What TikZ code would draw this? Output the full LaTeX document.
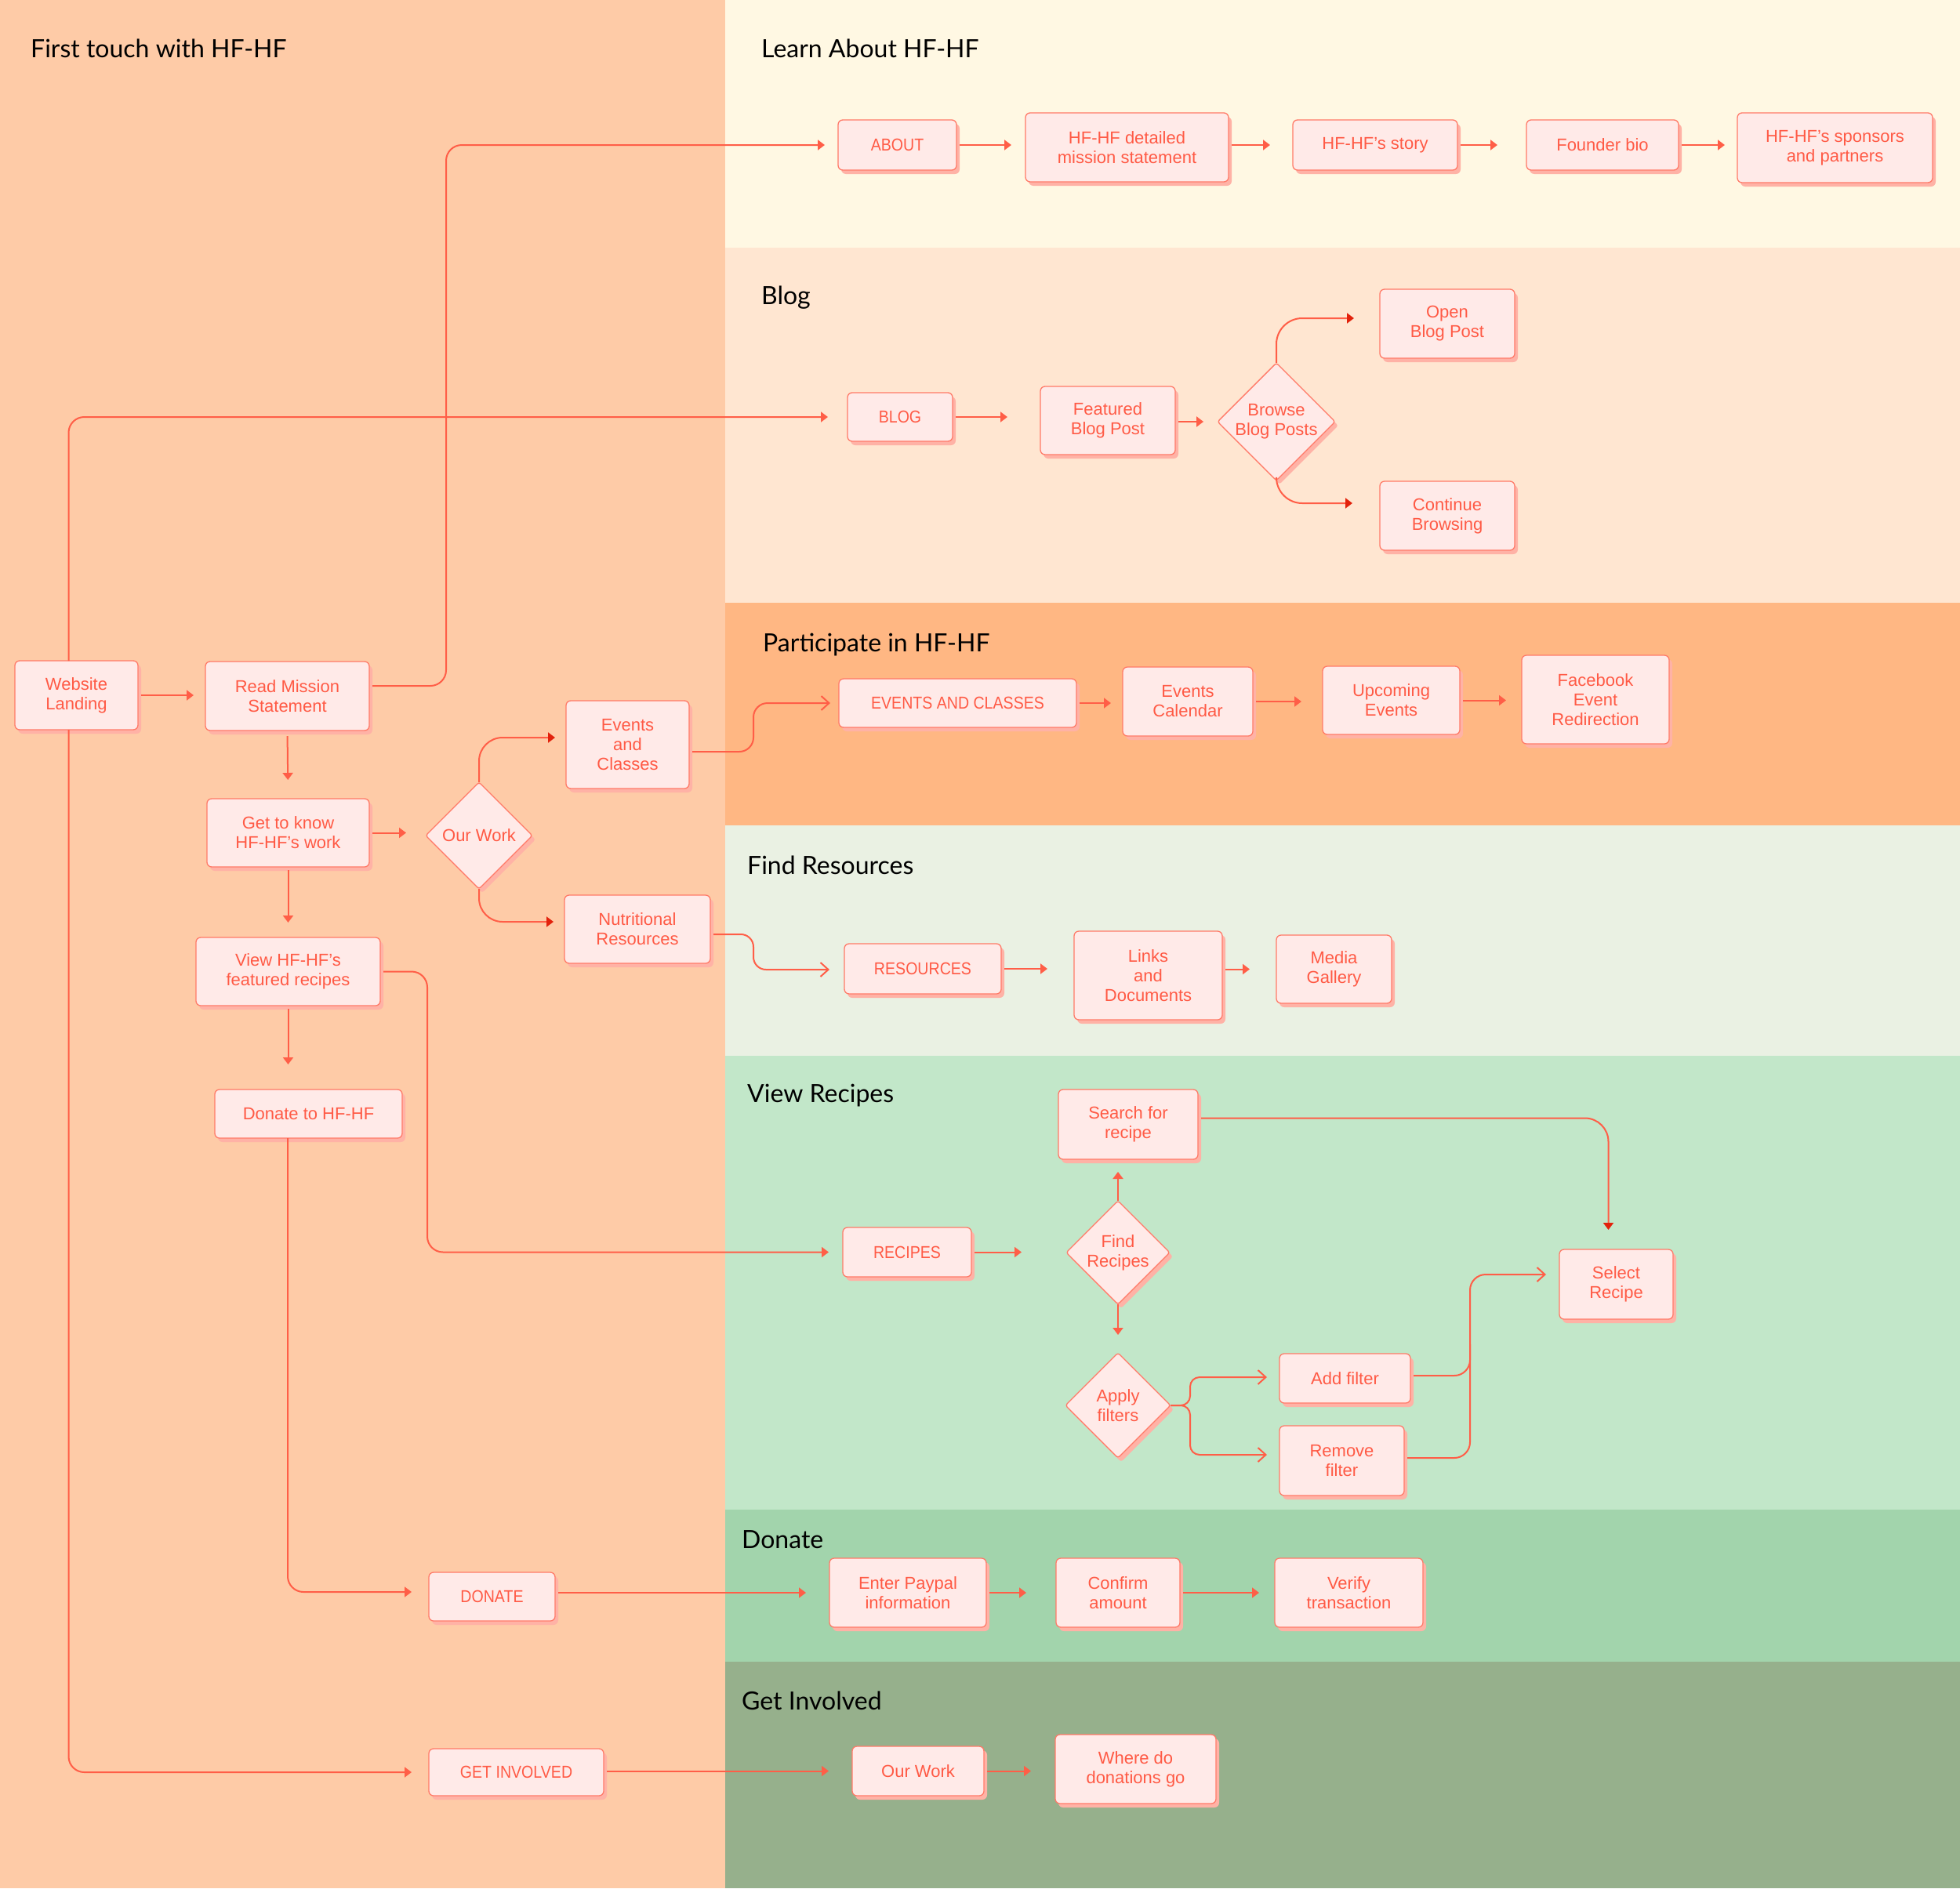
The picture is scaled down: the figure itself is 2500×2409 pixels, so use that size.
\documentclass[tikz,border=0pt]{standalone}
\usepackage{fontspec}
\setmainfont{Liberation Sans}
\newfontfamily\titlefont{Lato}
\newfontfamily\capsfont[FakeStretch=0.89]{Liberation Sans}
\usetikzlibrary{arrows.meta,shapes.geometric,shadows}

\definecolor{colLeft}{HTML}{FECBA7}
\definecolor{colLearn}{HTML}{FFF8E3}
\definecolor{colBlog}{HTML}{FFE6D1}
\definecolor{colPart}{HTML}{FFB783}
\definecolor{colRes}{HTML}{EAF1E3}
\definecolor{colRec}{HTML}{C2E7C9}
\definecolor{colDon}{HTML}{A2D4AC}
\definecolor{colInv}{HTML}{96B08C}
\definecolor{nodeFill}{HTML}{FFEAE8}
\definecolor{nodeDraw}{HTML}{FF7A68}
\definecolor{nodeShadow}{HTML}{FFB2A6}
\definecolor{txt}{HTML}{FF5A45}
\definecolor{lineCol}{HTML}{FF5E47}
\definecolor{darkTip}{HTML}{E2220C}

\begin{document}
\begin{tikzpicture}[x=1pt,y=-1pt,
  sz/.style 2 args={minimum width=#1pt, minimum height=#2pt},
  nodebase/.style={draw=nodeDraw, line width=1.3pt, fill=nodeFill, text=txt,
    font=\fontsize{22}{25}\selectfont, align=center, inner sep=0pt, outer sep=0pt,
    drop shadow={shadow xshift=4pt, shadow yshift=-5pt, fill=nodeShadow, opacity=1}},
  box/.style={nodebase, rectangle, rounded corners=6pt},
  capbox/.style={box, font=\capsfont\fontsize{22}{25}\selectfont},
  dia/.style={nodebase, diamond, aspect=1, rounded corners=3pt},
  title/.style={font=\titlefont\fontsize{32}{36}\selectfont, text=black, inner sep=0pt, anchor=base west},
  conn/.style={draw=lineCol, line width=2pt, rounded corners=20pt, shorten <=4pt},
  ar/.style={conn, -{Triangle[length=9pt,width=13pt]}},
  ard/.style={conn, -{Triangle[length=9pt,width=13pt,color=darkTip]}},
  aro/.style={conn, -{Straight Barb[length=10pt,width=18pt]}}
]
% backgrounds
\fill[colLeft] (0,0) rectangle (925,2409);
\fill[colLearn] (925,0) rectangle (2500,316);
\fill[colBlog] (925,316) rectangle (2500,769);
\fill[colPart] (925,769) rectangle (2500,1053);
\fill[colRes] (925,1053) rectangle (2500,1347);
\fill[colRec] (925,1347) rectangle (2500,1926);
\fill[colDon] (925,1926) rectangle (2500,2120);
\fill[colInv] (925,2120) rectangle (2500,2409);
\useasboundingbox (0,0) rectangle (2500,2409);

% titles
\node[title] (t1) at (39,73) {First touch with HF-HF};
\node[title] (t2) at (971,73) {Learn About HF-HF};
\node[title] (t3) at (971,388) {Blog};
\node[title] (t4) at (973,831) {Participate in HF-HF};
\node[title] (t5) at (953,1115) {Find Resources};
\node[title] (t6) at (953,1406) {View Recipes};
\node[title] (t7) at (946,1975) {Donate};
\node[title] (t8) at (946,2181) {Get Involved};

% left column
\node[box, sz={157}{88}] (wl) at (97.5,887) {Website\\Landing};
\node[box, sz={209}{88}] (rms) at (366.5,888) {Read Mission\\Statement};
\node[box, sz={207}{87}] (gtk) at (367.5,1062.5) {Get to know\\HF-HF’s work};
\node[box, sz={235}{87}] (vfr) at (367.5,1239.5) {View HF-HF’s\\featured recipes};
\node[box, sz={239}{62}] (dth) at (393.5,1421) {Donate to HF-HF};
\node[dia, sz={136}{136}] (ow) at (611,1066) {Our Work};
\node[box, sz={157}{112}] (eac) at (800.5,950) {Events\\and\\Classes};
\node[box, sz={186}{87}] (nr) at (813,1185.5) {Nutritional\\Resources};
\node[capbox, sz={161}{62}] (don) at (627.5,2037) {DONATE};
\node[capbox, sz={223}{60}] (gi) at (658.5,2261) {GET INVOLVED};

% learn about
\node[capbox, sz={151}{64}] (about) at (1144.5,185) {ABOUT};
\node[box, sz={259}{88}] (dms) at (1437.5,188) {HF-HF detailed\\mission statement};
\node[box, sz={210}{64}] (story) at (1754,185) {HF-HF’s story};
\node[box, sz={194}{64}] (fbio) at (2044,185) {Founder bio};
\node[box, sz={249}{89}] (spons) at (2340.5,188.5) {HF-HF’s sponsors\\and partners};

% blog
\node[capbox, sz={134}{62}] (blog) at (1148,532) {BLOG};
\node[box, sz={172}{87}] (fbp) at (1413,536.5) {Featured\\Blog Post};
\node[dia, sz={144}{144}] (bbp) at (1628,538) {Browse\\Blog Posts};
\node[box, sz={172}{88}] (obp) at (1846,413) {Open\\Blog Post};
\node[box, sz={172}{88}] (cb) at (1846,658) {Continue\\Browsing};

% participate
\node[capbox, sz={303}{62}] (evc) at (1221.5,897) {EVENTS AND CLASSES};
\node[box, sz={166}{88}] (ecal) at (1515,895) {Events\\Calendar};
\node[box, sz={175}{87}] (upc) at (1774.5,893.5) {Upcoming\\Events};
\node[box, sz={188}{113}] (fb) at (2035,892.5) {Facebook\\Event\\Redirection};

% resources
\node[capbox, sz={200}{64}] (res) at (1177,1236) {RESOURCES};
\node[box, sz={189}{113}] (lnd) at (1464.5,1244.5) {Links\\and\\Documents};
\node[box, sz={147}{87}] (mg) at (1701.5,1236.5) {Media\\Gallery};

% recipes
\node[capbox, sz={164}{63}] (rec) at (1157,1597.5) {RECIPES};
\node[box, sz={178}{89}] (sfr) at (1439,1434.5) {Search for\\recipe};
\node[dia, sz={132}{132}] (fr) at (1426,1598) {Find\\Recipes};
\node[dia, sz={134}{134}] (af) at (1426,1793) {Apply\\filters};
\node[box, sz={167}{63}] (addf) at (1715.5,1758.5) {Add filter};
\node[box, sz={159}{89}] (remf) at (1711.5,1863.5) {Remove\\filter};
\node[box, sz={145}{89}] (sel) at (2061.5,1638.5) {Select\\Recipe};

% donate
\node[box, sz={200}{88}] (epi) at (1158,2032) {Enter Paypal\\information};
\node[box, sz={158}{88}] (ca) at (1426,2032) {Confirm\\amount};
\node[box, sz={189}{88}] (vt) at (1720.5,2032) {Verify\\transaction};

% get involved
\node[box, sz={168}{63}] (ow2) at (1171,2259.5) {Our Work};
\node[box, sz={205}{88}] (wdd) at (1448.5,2257) {Where do\\donations go};

% ---- connectors: left column
\draw[ar, shorten >=15pt] (wl.east) -- (wl.east -| rms.west);
\draw[ar, shorten >=17pt] ([yshift=13pt]rms.east) -- ++(98,0) |- (about.west);
\draw[ar, shorten >=25pt, shorten <=0pt] ([xshift=-10pt]wl.north) |- (blog.west);
\draw[ar, shorten >=22pt, shorten <=0pt] ([xshift=-10pt]wl.south) |- (gi.west);
\draw[ar, shorten >=24pt, shorten <=7pt] (rms.south) -- (gtk.north);
\draw[ar, shorten >=25pt] (gtk.east) -- (gtk.east -| ow.west);
\draw[ar, shorten >=19pt] (gtk.south) -- (vfr.north);
\draw[ar, shorten >=32pt] (vfr.south) -- (vfr.south |- dth.north);
\draw[ard, shorten >=14pt, shorten <=0pt, rounded corners=30pt] (ow.north) |- ([yshift=9pt]eac.west);
\draw[ard, shorten >=14pt, shorten <=0pt, rounded corners=30pt] (ow.south) |- ([yshift=9.5pt]nr.west);
\draw[aro, shorten >=11pt, rounded corners=18pt] ([yshift=-9pt]eac.east) -- ++(82,0) |- (evc.west);
\draw[aro, shorten >=19pt, rounded corners=16pt] ([yshift=-6.5pt]nr.east) -- ++(55,0) |- ([yshift=-1pt]res.west);
\draw[ar, shorten >=18pt] (vfr.east) -- ++(60,0) |- (rec.west);
\draw[ar, shorten >=22pt, shorten <=0pt] ([xshift=-26.5pt]dth.south) |- ([yshift=6pt]don.west);
\draw[ar, shorten >=30pt] (ow2.west -| gi.east) -- (ow2.west);
\draw[ar, shorten >=30pt] (epi.west -| don.east) -- (epi.west);

% learn about
\draw[ar, shorten >=18pt] (about.east) -- (about.east -| dms.west);
\draw[ar, shorten >=29pt] (story.west -| dms.east) -- (story.west);
\draw[ar, shorten >=37pt] (story.east) -- (story.east -| fbio.west);
\draw[ar, shorten >=16pt] (fbio.east) -- (fbio.east -| spons.west);

% blog
\draw[ar, shorten >=42pt] (blog.east) -- (blog.east -| fbp.west);
\draw[ar, shorten >=18pt] (bbp.west -| fbp.east) -- (bbp.west);
\draw[ard, shorten >=33pt, shorten <=0pt, rounded corners=33pt] (bbp.north) |- ([yshift=7pt]obp.west);
\draw[ard, shorten >=35pt, shorten <=0pt, rounded corners=33pt] (bbp.south) |- ([yshift=16pt]cb.west);

% participate
\draw[ar, shorten >=15pt] (evc.east) -- (evc.east -| ecal.west);
\draw[ar, shorten >=27pt] (ecal.east) -- (ecal.east -| upc.west);
\draw[ar, shorten >=20pt] (upc.east) -- (upc.east -| fb.west);

% resources
\draw[ar, shorten >=34pt] (res.east) -- (res.east -| lnd.west);
\draw[ar, shorten >=34pt] (mg.west -| lnd.east) -- (mg.west);

% recipes
\draw[ar, shorten >=57pt] (rec.east) -- (rec.east -| fr.west);
\draw[ar, shorten >=16pt, shorten <=0pt] (fr.north) -- (fr.north |- sfr.south);
\draw[ar, shorten >=23pt, shorten <=0pt] (fr.south) -- (af.north);
\draw[ard, shorten >=25pt, rounded corners=30pt] ([yshift=8pt]sfr.east) -| ([xshift=-10pt]sel.north);
\draw[aro, shorten >=16pt, shorten <=0pt, rounded corners=12pt] (af.east) -- ++(25,0) |- ([yshift=1.5pt]addf.west);
\draw[aro, shorten >=16pt, shorten <=0pt, rounded corners=12pt] (af.east) -- ++(25,0) |- ([yshift=7.5pt]remf.west);
\draw[aro, shorten >=17pt, rounded corners=20pt] ([yshift=3.5pt]addf.east) -- ++(76,0) |- ([yshift=12.5pt]sel.west);
\draw[conn, rounded corners=20pt] ([yshift=3.5pt]remf.east) -- ++(84,0) -- ++(0,-145);

% donate
\draw[ar, shorten >=38pt] (epi.east) -- (epi.east -| ca.west);
\draw[ar, shorten >=20pt] (ca.east) -- (ca.east -| vt.west);

% get involved
\draw[ar, shorten >=31pt] (ow2.east) -- (ow2.east -| wdd.west);
\end{tikzpicture}
\end{document}
